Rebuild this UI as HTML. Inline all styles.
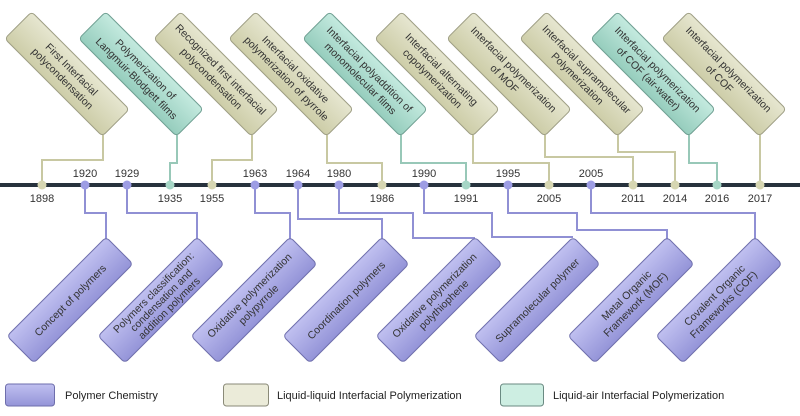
<!DOCTYPE html>
<html><head><meta charset="utf-8"><style>
html,body{margin:0;padding:0;background:#fff;}
svg{display:block;font-family:"Liberation Sans",sans-serif;}
</style></head><body>
<svg width="800" height="416" viewBox="0 0 800 416" xmlns="http://www.w3.org/2000/svg">
<defs>
<linearGradient id="gb" x1="0" y1="0" x2="0" y2="1"><stop offset="0" stop-color="#e6e6d0"/><stop offset="1" stop-color="#cdcda8"/></linearGradient>
<linearGradient id="gt" x1="0" y1="0" x2="0" y2="1"><stop offset="0" stop-color="#c4eadf"/><stop offset="1" stop-color="#96cdbd"/></linearGradient>
<linearGradient id="gp" x1="0" y1="0" x2="0" y2="1"><stop offset="0" stop-color="#c0c0f0"/><stop offset="1" stop-color="#9494d8"/></linearGradient>
</defs>
<g fill="none" stroke-width="2">
<path d="M103 135V160H42V185" stroke="#c8c8a2"/>
<path d="M177 135V163H170V185" stroke="#98c8b8"/>
<path d="M252 135V160H212V185" stroke="#c8c8a2"/>
<path d="M327 135V163H382V185" stroke="#c8c8a2"/>
<path d="M401 135V163H466V185" stroke="#98c8b8"/>
<path d="M473 135V163H549V185" stroke="#c8c8a2"/>
<path d="M545 135V157H633V185" stroke="#c8c8a2"/>
<path d="M618 135V152H675V185" stroke="#c8c8a2"/>
<path d="M689 135V163H717V185" stroke="#98c8b8"/>
<path d="M760 135V185" stroke="#c8c8a2"/>
<g stroke="#9090d4">
<path d="M85 185V213H106V240"/>
<path d="M127 185V213H197V240"/>
<path d="M255 185V213H290V240"/>
<path d="M298 185V219H382V240"/>
<path d="M339 185V213H413V238H475"/>
<path d="M424 185V213H492V237H573"/>
<path d="M508 185V213H577V230H667V240"/>
<path d="M591 185V213H755V240"/>
</g>
</g>
<rect x="0" y="183" width="800" height="4" fill="#27323d"/>
<g>
<g fill="#d6d6b2"><circle cx="42" cy="185" r="4.5"/><circle cx="212" cy="185" r="4.5"/><circle cx="382" cy="185" r="4.5"/><circle cx="549" cy="185" r="4.5"/><circle cx="633" cy="185" r="4.5"/><circle cx="675" cy="185" r="4.5"/><circle cx="760" cy="185" r="4.5"/></g>
<g fill="#a6d6c6"><circle cx="170" cy="185" r="4.5"/><circle cx="466" cy="185" r="4.5"/><circle cx="717" cy="185" r="4.5"/></g>
<g fill="#9d9de4"><circle cx="85" cy="185" r="4.5"/><circle cx="127" cy="185" r="4.5"/><circle cx="255" cy="185" r="4.5"/><circle cx="298" cy="185" r="4.5"/><circle cx="339" cy="185" r="4.5"/><circle cx="424" cy="185" r="4.5"/><circle cx="508" cy="185" r="4.5"/><circle cx="591" cy="185" r="4.5"/></g>
</g>
<g font-size="11" fill="#333" text-anchor="middle">
<text x="85" y="177">1920</text><text x="127" y="177">1929</text><text x="255" y="177">1963</text><text x="298" y="177">1964</text><text x="339" y="177">1980</text><text x="424" y="177">1990</text><text x="508" y="177">1995</text><text x="591" y="177">2005</text>
<text x="42" y="202">1898</text><text x="170" y="202">1935</text><text x="212" y="202">1955</text><text x="382" y="202">1986</text><text x="466" y="202">1991</text><text x="549" y="202">2005</text><text x="633" y="202">2011</text><text x="675" y="202">2014</text><text x="717" y="202">2016</text><text x="760" y="202">2017</text>
</g>
<g font-size="10.5" fill="#333" text-anchor="middle">
<g transform="translate(67,74) rotate(45)"><rect x="-69" y="-19" width="138" height="38" rx="4" fill="url(#gb)" stroke="#9e9e84"/><text y="-3">First Interfacial</text><text y="10">polycondensation</text></g>
<g transform="translate(141,74) rotate(45)"><rect x="-69" y="-19" width="138" height="38" rx="4" fill="url(#gt)" stroke="#6f9f92"/><text y="-3">Polymerization of</text><text y="10">Langmuir-Blodgett films</text></g>
<g transform="translate(216,74) rotate(45)"><rect x="-69" y="-19" width="138" height="38" rx="4" fill="url(#gb)" stroke="#9e9e84"/><text y="-3">Recognized first interfacial</text><text y="10">polycondensation</text></g>
<g transform="translate(291,74) rotate(45)"><rect x="-69" y="-19" width="138" height="38" rx="4" fill="url(#gb)" stroke="#9e9e84"/><text y="-3">Interfacial oxidative</text><text y="10">polymerization of pyrrole</text></g>
<g transform="translate(365,74) rotate(45)"><rect x="-69" y="-19" width="138" height="38" rx="4" fill="url(#gt)" stroke="#6f9f92"/><text y="-3">Interfacial polyaddition of</text><text y="10">monomolecular films</text></g>
<g transform="translate(437,74) rotate(45)"><rect x="-69" y="-19" width="138" height="38" rx="4" fill="url(#gb)" stroke="#9e9e84"/><text y="-3">Interfacial  alternating</text><text y="10">copolymerization</text></g>
<g transform="translate(509,74) rotate(45)"><rect x="-69" y="-19" width="138" height="38" rx="4" fill="url(#gb)" stroke="#9e9e84"/><text y="-3">Interfacial polymerization</text><text y="10">of MOF</text></g>
<g transform="translate(582,74) rotate(45)"><rect x="-69" y="-19" width="138" height="38" rx="4" fill="url(#gb)" stroke="#9e9e84"/><text y="-3">Interfacial supramolecular</text><text y="10">Polymerization</text></g>
<g transform="translate(653,74) rotate(45)"><rect x="-69" y="-19" width="138" height="38" rx="4" fill="url(#gt)" stroke="#6f9f92"/><text y="-3">Interfacial polymerization</text><text y="10">of COF (air-water)</text></g>
<g transform="translate(724,74) rotate(45)"><rect x="-69" y="-19" width="138" height="38" rx="4" fill="url(#gb)" stroke="#9e9e84"/><text y="-3">Interfacial polymerization</text><text y="10">of COF</text></g>
</g>
<g font-size="10.5" fill="#333" text-anchor="middle">
<g transform="translate(70,300) rotate(-45)"><rect x="-70" y="-19" width="140" height="38" rx="4" fill="url(#gp)" stroke="#6e6eac"/><text y="4">Concept of polymers</text></g>
<g transform="translate(161,300) rotate(-45)"><rect x="-70" y="-19" width="140" height="38" rx="4" fill="url(#gp)" stroke="#6e6eac"/><text y="-7">Polymers classification:</text><text y="4">condensation and</text><text y="15">addition polymers</text></g>
<g transform="translate(254,300) rotate(-45)"><rect x="-70" y="-19" width="140" height="38" rx="4" fill="url(#gp)" stroke="#6e6eac"/><text y="-3">Oxidative polymerization</text><text y="10">polypyrrole</text></g>
<g transform="translate(346,300) rotate(-45)"><rect x="-70" y="-19" width="140" height="38" rx="4" fill="url(#gp)" stroke="#6e6eac"/><text y="4">Coordination polymers</text></g>
<g transform="translate(439,300) rotate(-45)"><rect x="-70" y="-19" width="140" height="38" rx="4" fill="url(#gp)" stroke="#6e6eac"/><text y="-3">Oxidative polymerization</text><text y="10">polythiophene</text></g>
<g transform="translate(537,300) rotate(-45)"><rect x="-70" y="-19" width="140" height="38" rx="4" fill="url(#gp)" stroke="#6e6eac"/><text y="4">Supramolecular polymer</text></g>
<g transform="translate(631,300) rotate(-45)"><rect x="-70" y="-19" width="140" height="38" rx="4" fill="url(#gp)" stroke="#6e6eac"/><text y="-3">Metal Organic</text><text y="10">Framework (MOF)</text></g>
<g transform="translate(719,300) rotate(-45)"><rect x="-70" y="-19" width="140" height="38" rx="4" fill="url(#gp)" stroke="#6e6eac"/><text y="-3">Covalent Organic</text><text y="10">Frameworks (COF)</text></g>
</g>
<rect x="5.5" y="384" width="49" height="22" rx="3" fill="url(#gp)" stroke="#6e6eac"/>
<text x="65" y="399" font-size="11" fill="#222">Polymer Chemistry</text>
<rect x="223.5" y="384" width="45" height="22" rx="3" fill="#ebebd9" stroke="#8a8a78"/>
<text x="277" y="399" font-size="11" fill="#222">Liquid-liquid Interfacial Polymerization</text>
<rect x="500.5" y="384" width="43" height="22" rx="3" fill="#cdeee2" stroke="#6a8a82"/>
<text x="553" y="399" font-size="11" fill="#222">Liquid-air Interfacial Polymerization</text>
</svg>
</body></html>
